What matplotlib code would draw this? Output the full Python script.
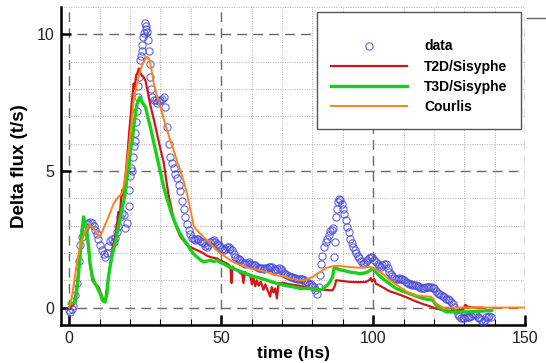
import matplotlib
matplotlib.use("Agg")
import matplotlib.pyplot as plt
from matplotlib.lines import Line2D
from matplotlib.patches import Rectangle
from matplotlib.ticker import MultipleLocator

plt.rcParams['font.family'] = ['Liberation Sans', 'DejaVu Sans']

# measured sediment flux (circles)
data_t = [0, 0.3, 0.8, 1.4, 2.0, 2.5, 3.1, 3.6, 4.2, 4.7,
          5.2, 5.8, 6.3, 6.9, 7.5, 8.0, 8.5, 9.1, 9.6, 10.2,
          10.7, 11.3, 11.8, 12.4, 12.9, 13.5, 14.0, 14.6, 15.1, 15.7,
          16.2, 16.8, 17.3, 17.9, 18.4, 19.0, 19.5, 19.8, 20.1, 20.4,
          20.7, 21.0, 21.2, 21.5, 21.8, 22.0, 22.3, 22.5, 22.7, 22.9,
          23.2, 23.5, 23.8, 24.0, 24.3, 24.5, 24.8, 25.1, 25.3, 25.6,
          25.9, 26.2, 26.5, 26.7, 27.0, 27.3, 27.8, 28.4, 28.9, 29.4,
          30.0, 30.5, 31.1, 31.6, 32.2, 32.7, 33.3, 33.8, 34.4, 34.9,
          35.5, 36.0, 36.6, 37.1, 37.6, 38.2, 38.7, 39.3, 39.8, 40.4,
          40.9, 41.5, 42.0, 42.5, 43.1, 43.6, 44.2, 44.7, 45.3, 45.8,
          46.4, 46.9, 47.5, 48.0, 48.6, 49.1, 49.7, 50.2, 50.8, 51.3,
          51.9, 52.4, 53.0, 53.5, 54.1, 54.6, 55.2, 55.7, 56.3, 56.8,
          57.4, 57.9, 58.5, 59.0, 59.6, 60.1, 60.7, 61.2, 61.8, 62.3,
          62.9, 63.4, 64.0, 64.5, 65.1, 65.6, 66.2, 66.7, 67.3, 67.8,
          68.4, 68.9, 69.5, 70.0, 70.6, 71.1, 71.7, 72.2, 72.8, 73.3,
          73.9, 74.4, 75.0, 75.5, 76.1, 76.6, 77.2, 77.7, 78.3, 78.8,
          79.4, 79.9, 80.5, 81.0, 81.6, 82.1, 82.5, 82.9, 83.3, 83.8,
          84.3, 84.8, 85.3, 85.8, 86.3, 86.7, 87.1, 87.4, 87.7, 88.0,
          88.4, 88.8, 89.2, 89.6, 90.0, 90.4, 90.9, 91.4, 91.9, 92.4,
          92.9, 93.4, 93.9, 94.4, 94.9, 95.4, 95.9, 96.5, 97.0, 97.5,
          98.1, 98.6, 99.2, 99.7, 100.3, 100.8, 101.4, 101.9, 102.5, 103.0,
          103.6, 104.1, 104.7, 105.2, 105.8, 106.3, 106.9, 107.4, 108.0, 108.5,
          109.1, 109.6, 110.2, 110.7, 111.3, 111.8, 112.4, 112.9, 113.5, 114.0,
          114.6, 115.1, 115.7, 116.2, 116.8, 117.3, 117.9, 118.4, 119.0, 119.5,
          120.1, 120.6, 121.2, 121.7, 122.3, 122.8, 123.4, 123.9, 124.5, 125.0,
          125.6, 126.1, 126.7, 127.2, 127.8, 128.3, 128.9, 129.4, 130.0, 130.5,
          131.1, 131.6, 132.2, 132.7, 133.3, 133.8, 134.4, 134.9, 135.5, 136.0,
          136.6, 137.1, 137.7, 138.2, 138.8]
data_q = [-0.10, -0.15, -0.05, 0.05, 0.45, 0.9, 1.7, 2.3, 2.6, 2.85,
          2.95, 3.05, 3.1, 3.12, 3.08, 3.0, 2.85, 2.7, 2.5, 2.3,
          2.1, 1.95, 1.85, 2.0, 2.25, 2.45, 2.5, 2.4, 2.55, 2.75,
          3.0, 3.3, 3.45, 3.4, 2.9, 3.1, 3.7, 4.3, 4.8, 5.1,
          5.0, 5.5, 5.9, 6.1, 6.4, 6.8, 7.2, 7.7, 8.1, 8.45,
          9.05, 9.2, 9.4, 9.6, 9.9, 10.05, 10.4, 10.3, 10.2, 10.1,
          9.8, 9.4, 8.9, 8.45, 8.0, 7.7, 7.6, 7.58, 7.5, 7.55,
          7.6, 7.65, 7.7, 7.35, 6.6, 6.0, 5.5, 5.3, 5.1, 4.9,
          4.75, 4.5, 4.25, 3.9, 3.6, 3.3, 3.07, 2.85, 2.7, 2.55,
          2.5, 2.48, 2.5, 2.5, 2.45, 2.4, 2.35, 2.25, 2.2, 2.3,
          2.4, 2.45, 2.46, 2.4, 2.34, 2.28, 2.22, 2.15, 2.1, 2.15,
          2.2, 2.22, 2.15, 2.1, 1.95, 1.85, 1.8, 1.76, 1.73, 1.68,
          1.62, 1.6, 1.62, 1.65, 1.6, 1.55, 1.55, 1.55, 1.5, 1.45,
          1.43, 1.43, 1.42, 1.43, 1.45, 1.48, 1.5, 1.48, 1.42, 1.38,
          1.4, 1.43, 1.4, 1.33, 1.28, 1.22, 1.18, 1.15, 1.12, 1.12,
          1.1, 1.08, 1.06, 1.05, 1.06, 1.05, 1.0, 0.95, 0.92, 0.88,
          0.85, 0.8, 0.76, 0.65, 0.5, 0.75, 1.2, 1.6, 1.9, 2.2,
          2.4, 2.5, 2.65, 2.8, 2.85, 2.9, 1.85, 2.4, 3.3, 3.6,
          3.85, 3.99, 3.95, 3.8, 3.6, 3.44, 3.2, 2.95, 2.75, 2.5,
          2.35, 2.2, 2.1, 1.98, 1.9, 1.8, 1.7, 1.6, 1.62, 1.68,
          1.73, 1.8, 1.85, 1.85, 1.75, 1.67, 1.6, 1.52, 1.49, 1.55,
          1.6, 1.6, 1.45, 1.3, 1.24, 1.15, 1.08, 1.06, 1.06, 1.07,
          1.06, 1.05, 1.0, 0.95, 0.9, 0.88, 0.86, 0.84, 0.82, 0.82,
          0.78, 0.75, 0.72, 0.7, 0.72, 0.75, 0.76, 0.76, 0.74, 0.72,
          0.7, 0.62, 0.55, 0.51, 0.45, 0.42, 0.39, 0.33, 0.3, 0.27,
          0.2, 0.12, 0.02, -0.1, -0.22, -0.32, -0.38, -0.4, -0.38, -0.36,
          -0.34, -0.34, -0.3, -0.25, -0.22, -0.28, -0.35, -0.4, -0.46, -0.52,
          -0.45, -0.36, -0.34, -0.32, -0.35]

# T2D/Sisyphe
t2d_t = [0, 1.5, 2.5, 3.5, 4.5, 5.0, 5.6, 6.2, 6.8, 7.6,
         8.5, 9.6, 10.5, 11.3, 11.8, 12.5, 13.5, 14.5, 15.5, 16.2,
         16.6, 17.0, 17.4, 17.8, 18.3, 19.0, 19.8, 20.5, 21.2, 21.5,
         22.0, 22.5, 22.9, 23.3, 23.8, 24.4, 25.1, 25.8, 26.7, 27.8,
         28.9, 30.0, 31.1, 32.0, 32.7, 33.5, 34.4, 35.4, 36.5, 37.6,
         38.7, 39.8, 41.0, 42.0, 43.1, 44.2, 45.3, 46.4, 47.5, 48.6,
         49.7, 50.8, 52.0, 53.0, 53.4, 53.7, 54.5, 55.5, 56.3, 56.8,
         57.3, 57.8, 58.6, 59.5, 60.1, 60.6, 61.2, 61.7, 62.3, 63.0,
         63.9, 64.5, 65.2, 66.1, 66.6, 67.2, 67.8, 68.3, 68.9, 70.5,
         72.5, 75.6, 78.5, 81.1, 84.0, 86.6, 87.4, 87.8, 90.0, 92.1,
         95.0, 97.6, 98.6, 99.2, 99.6, 100.3, 100.8, 103.0, 105.3, 108.0,
         110.8, 113.5, 116.3, 118.5, 120.7, 123.0, 125.1, 128.0, 129.5, 130.3,
         130.8, 131.5, 133.0, 136.0]
t2d_q = [0, 0.1, 0.8, 1.8, 2.9, 3.2, 2.9, 2.3, 1.6, 1.0,
         0.85, 0.76, 0.5, 0.25, 0.22, 0.8, 1.6, 2.3, 2.8, 3.5,
         3.3, 3.9, 4.3, 4.1, 4.6, 5.4, 6.5, 7.4, 8.2, 8.0,
         8.5, 8.6, 8.75, 8.6, 8.5, 8.45, 8.3, 7.9, 7.4, 6.9,
         6.35, 5.8, 5.3, 4.6, 4.1, 3.7, 3.2, 2.9, 2.6, 2.45,
         2.3, 2.22, 2.15, 2.1, 2.05, 1.98, 1.9, 1.85, 1.82, 1.8,
         1.72, 1.67, 1.6, 1.5, 0.9, 1.5, 1.4, 1.35, 1.25, 1.3,
         0.9, 1.3, 1.2, 1.2, 0.85, 1.1, 0.78, 1.0, 0.8, 0.95,
         0.65, 0.85, 0.65, 0.4, 0.75, 0.55, 0.7, 0.33, 0.9, 0.9,
         0.85, 0.8, 0.72, 0.68, 0.65, 0.63, 0.8, 1.0, 0.97, 0.94,
         0.93, 0.94, 1.0, 1.08, 0.95, 1.05, 0.88, 0.75, 0.6, 0.5,
         0.38, 0.25, 0.13, 0.05, -0.04, -0.1, -0.12, -0.1, -0.07, 0.1,
         0.05, 0.02, 0.0, 0.0]

# T3D/Sisyphe
t3d_t = [0, 1.0, 2.0, 2.8, 3.6, 4.2, 4.7, 5.2, 5.8, 6.4,
         6.9, 7.5, 8.0, 9.1, 10.2, 11.0, 11.8, 12.4, 12.9, 14.0,
         15.1, 16.2, 17.3, 18.4, 19.2, 19.6, 20.1, 20.7, 21.3, 21.8,
         22.3, 22.8, 23.2, 23.8, 24.4, 25.1, 25.9, 26.7, 27.8, 28.9,
         30.0, 31.1, 32.1, 32.7, 33.5, 34.3, 35.4, 36.5, 37.6, 38.7,
         40.0, 41.0, 42.0, 43.1, 44.2, 45.3, 46.4, 47.5, 48.6, 49.7,
         50.8, 52.0, 53.5, 55.2, 57.3, 59.5, 62.0, 65.0, 67.8, 70.5,
         73.5, 76.0, 78.9, 81.0, 82.2, 83.5, 84.9, 85.8, 86.6, 87.1,
         87.5, 88.8, 90.5, 92.1, 93.8, 95.4, 97.0, 98.1, 99.2, 99.8,
         100.5, 101.5, 103.1, 105.3, 107.5, 109.7, 111.9, 114.1, 116.3, 118.0,
         119.6, 120.5, 121.3, 122.7, 124.0, 127.0, 130.6, 133.5, 136.1, 138.9]
t3d_q = [0.15, 0.15, 0.2, 0.9, 1.9, 2.8, 3.32, 3.1, 2.8, 2.2,
         1.6, 1.2, 1.0, 0.76, 0.5, 0.25, 0.2, 0.5, 1.12, 1.85,
         2.34, 2.95, 3.56, 4.17, 4.9, 5.1, 5.7, 6.1, 6.7, 7.1,
         7.45, 7.6, 7.7, 7.55, 7.45, 7.33, 6.95, 6.6, 6.05, 5.5,
         4.95, 4.4, 4.0, 3.8, 3.5, 3.25, 2.95, 2.7, 2.5, 2.34,
         2.1, 1.95, 1.85, 1.75, 1.67, 1.7, 1.73, 1.68, 1.73, 1.65,
         1.6, 1.52, 1.45, 1.37, 1.28, 1.18, 1.1, 1.0, 0.9, 0.82,
         0.76, 0.7, 0.7, 0.68, 0.63, 0.7, 0.82, 0.95, 1.12, 1.43,
         1.45, 1.39, 1.35, 1.3, 1.28, 1.24, 1.26, 1.3, 1.38, 1.43,
         1.35, 1.22, 1.06, 0.88, 0.7, 0.6, 0.51, 0.42, 0.33, 0.3,
         0.27, 0.12, 0.02, -0.08, -0.16, -0.16, -0.16, -0.14, -0.13, -0.1]

# Courlis
courlis_t = [0, 0.9, 2.5, 3.3, 4.2, 5.0, 5.8, 6.9, 7.5, 8.0,
             9.1, 10.2, 11.3, 12.9, 14.6, 15.5, 16.2, 17.3, 18.1, 19.0,
             20.1, 21.2, 22.3, 23.4, 24.5, 25.6, 26.3, 27.0, 27.8, 28.9,
             30.0, 31.6, 33.0, 34.4, 35.5, 36.6, 37.7, 38.8, 39.8, 40.9,
             41.8, 43.1, 44.5, 46.4, 48.0, 49.7, 51.5, 53.0, 54.6, 56.3,
             58.0, 59.5, 62.0, 65.0, 67.8, 70.5, 73.0, 75.6, 77.5, 80.0,
             82.5, 84.5, 86.6, 88.0, 89.9, 92.5, 95.4, 97.5, 99.2, 100.5,
             103.1, 105.5, 108.6, 111.5, 114.1, 117.0, 119.1, 120.7, 122.9, 126.0,
             150.0]
courlis_q = [0, 0.4, 1.6, 2.1, 2.46, 2.7, 2.9, 3.0, 2.95, 2.9,
             2.7, 2.62, 2.9, 3.32, 3.8, 3.95, 4.05, 4.17, 4.54, 5.27,
             6.35, 7.6, 8.2, 8.7, 9.0, 9.18, 9.1, 8.75, 8.2, 7.75,
             7.33, 6.7, 6.2, 5.74, 5.35, 5.0, 4.6, 4.14, 3.6, 3.0,
             2.85, 2.7, 2.55, 2.34, 2.15, 1.98, 1.85, 1.73, 1.63, 1.55,
             1.5, 1.43, 1.38, 1.3, 1.18, 1.15, 1.05, 1.0, 1.0, 1.12,
             1.3, 1.45, 1.51, 1.53, 1.51, 1.48, 1.46, 1.47, 1.49, 1.42,
             1.24, 1.0, 0.76, 0.55, 0.45, 0.41, 0.39, 0.15, 0.0, 0.0,
             0.0]

W, H = 546, 363
fig = plt.figure(figsize=(W / 100, H / 100), dpi=100)
ax = fig.add_axes([61 / W, 1 - 324.5 / H, (525.3 - 61) / W, (324.5 - 7) / H])

ax.plot(data_t, data_q, linestyle='none', marker='o', markersize=5.2,
        markerfacecolor='none', markeredgecolor='#4a4ad8', markeredgewidth=0.8,
        alpha=0.85, label='data', zorder=3)
ax.plot(t2d_t, t2d_q, color='#d01818', lw=1.6, label='T2D/Sisyphe', zorder=4)
ax.plot(t3d_t, t3d_q, color='#18d018', lw=2.4, label='T3D/Sisyphe', zorder=5)
ax.plot(courlis_t, courlis_q, color='#ff8214', lw=1.4, label='Courlis', zorder=6)

ax.set_xlim(-2.7, 150)
ax.set_ylim(-0.62, 11.0)
ax.xaxis.set_major_locator(MultipleLocator(50))
ax.xaxis.set_minor_locator(MultipleLocator(10))
ax.yaxis.set_major_locator(MultipleLocator(5))
ax.yaxis.set_minor_locator(MultipleLocator(1))

ax.set_axisbelow(True)
ax.grid(which='major', color='#6a6a6a', linestyle=(0, (7, 4.5)), linewidth=1.0)
ax.grid(which='minor', color='#b0b0b0', linestyle=(0, (1, 1.5)), linewidth=0.7)

for side in ['top', 'right']:
    ax.spines[side].set_visible(False)
for side in ['left', 'bottom']:
    ax.spines[side].set_linewidth(1.8)

ax.tick_params(which='major', direction='in', length=7, width=1.8,
               labelsize=11.5, labelcolor='#222222', pad=5)
ax.tick_params(axis='x', which='minor', direction='in', length=4, width=0.8)
ax.tick_params(axis='y', which='minor', length=0)

ax.set_xlabel('time (hs)', fontsize=12.5, fontweight='bold', labelpad=0)
ax.set_ylabel('Delta flux (t/s)', fontsize=13.5, fontweight='bold', labelpad=6)

# legend frame drawn separately, entries placed inside it
ax.add_patch(Rectangle((316.7 / W, 1 - 129.3 / H), (520.7 - 316.7) / W, (129.3 - 12.3) / H,
                       transform=fig.transFigure, facecolor='white', clip_on=False,
                       edgecolor='#555555', linewidth=1.0, zorder=10))
leg = ax.legend(loc='upper left', bbox_to_anchor=(331 / W, 1 - 39.5 / H),
                bbox_transform=fig.transFigure, frameon=False, borderpad=0,
                borderaxespad=0, handlelength=5.5, handletextpad=1.2,
                labelspacing=0.45, numpoints=1,
                prop={'size': 10, 'weight': 'bold'})
leg.set_zorder(11)

fig.add_artist(Line2D([526.7 / W, 1.0], [1 - 18.3 / H, 1 - 18.3 / H],
                      transform=fig.transFigure, color='#666666', linewidth=1.0))

fig.savefig('out.png', dpi=100)
